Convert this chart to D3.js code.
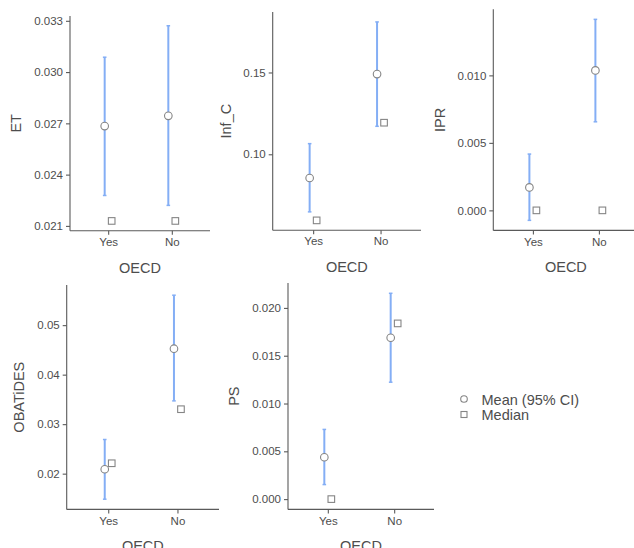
<!DOCTYPE html>
<html><head><meta charset="utf-8">
<script src="https://cdn.jsdelivr.net/npm/d3@7"></script>
<style>body{margin:0;background:#fff}svg{display:block}</style>
</head><body>
<svg id="c" width="634" height="548"></svg>
<script>
// ---- data ----
const groups = ["Yes", "No"];
const variables = ["ET", "Inf_C", "IPR", "OBATiDES", "PS"];
const meanVals  = [[0.02684, 0.02744], [0.0855, 0.1490], [0.00170, 0.01037], [0.02089, 0.04524], [0.00438, 0.01688]];
const ciLower   = [[0.02278, 0.02220], [0.0648, 0.1171], [-0.00074, 0.00656], [0.01484, 0.03470], [0.00152, 0.01223]];
const ciUpper   = [[0.03087, 0.03271], [0.1065, 0.1809], [0.00417, 0.01415], [0.02690, 0.05605], [0.00729, 0.02153]];
const medianVals= [[0.02129, 0.02129], [0.0596, 0.1193], [0.00000, 0.00000], [0.02210, 0.03302], [0.00000, 0.01838]];
const tickVals  = [[0.021,0.024,0.027,0.030,0.033],[0.10,0.15],[0.000,0.005,0.010],[0.02,0.03,0.04,0.05],[0.000,0.005,0.010,0.015,0.020]];
const tickFmt   = [".3f", ".2f", ".3f", ".2f", ".3f"];
const xTitle = "OECD";
const legendLabels = ["Mean (95% CI)", "Median"];

// ---- layout ----
const panels = [
  {x0:70,    x1:210,   y0:16,    y1:230.7, tx:21},
  {x0:272.7, x1:421,   y0:12,    y1:230.3, tx:231},
  {x0:493.3, x1:638.5, y0:9.3,   y1:230.4, tx:445},
  {x0:66.7,  x1:219,   y0:285,   y1:509.4, tx:24},
  {x0:288,   x1:434,   y0:283,   y1:509.4, tx:238.5}
];
const ciColor = "#84aef5", mkStroke = "#858585", txt = "#4d4d4d", axisCol = "#5a5a5a";
const font = "'Liberation Sans', Arial, sans-serif";
const dodge = 3.5;

const svg = d3.select("#c").style("font-family", font);

panels.forEach((p, i) => {
  const lo = d3.min([...ciLower[i], ...medianVals[i], ...meanVals[i]]);
  const hi = d3.max([...ciUpper[i], ...medianVals[i], ...meanVals[i]]);
  const pad = (hi - lo) * 0.05;
  const y = d3.scaleLinear().domain([lo - pad, hi + pad]).range([p.y1, p.y0]);
  const x = d3.scalePoint().domain(groups).range([p.x0, p.x1]).padding(0.6);
  const g = svg.append("g");

  // y axis
  const ya = g.append("g").attr("transform", `translate(${p.x0},0)`)
    .call(d3.axisLeft(y).tickValues(tickVals[i]).tickFormat(d3.format(tickFmt[i])).tickSize(4).tickPadding(3));
  // x axis
  const xa = g.append("g").attr("transform", `translate(0,${p.y1})`)
    .call(d3.axisBottom(x).tickSize(4).tickPadding(3));
  [ya, xa].forEach(a => {
    a.select(".domain").attr("stroke", axisCol).attr("stroke-width", 1.1);
    a.selectAll(".tick line").attr("stroke", axisCol).attr("stroke-width", 1.1);
    a.selectAll("text").attr("fill", txt).style("font-size", "11.5px").style("font-family", font);
  });
  // fix domain path to plain lines (remove outer ticks)
  ya.select(".domain").attr("d", `M0,${p.y0}V${p.y1}`);
  xa.select(".domain").attr("d", `M${p.x0},0H${p.x1}`);

  // titles
  g.append("text").attr("x", (p.x0 + p.x1) / 2).attr("y", p.y1 + 42)
    .attr("text-anchor", "middle").attr("fill", txt).style("font-size", "14.5px").text(xTitle);
  g.append("text").attr("transform", `translate(${p.tx},${(p.y0 + p.y1) / 2}) rotate(-90)`)
    .attr("text-anchor", "middle").attr("fill", txt).style("font-size", "14.5px").text(variables[i]);

  groups.forEach((grp, j) => {
    const cx = x(grp) - dodge;
    // error bar
    g.append("line").attr("x1", cx).attr("x2", cx).attr("y1", y(ciLower[i][j])).attr("y2", y(ciUpper[i][j]))
      .attr("stroke", ciColor).attr("stroke-width", 2);
    [ciLower[i][j], ciUpper[i][j]].forEach(v => {
      g.append("line").attr("x1", cx - 1.8).attr("x2", cx + 1.8).attr("y1", y(v)).attr("y2", y(v))
        .attr("stroke", ciColor).attr("stroke-width", 1.5);
    });
    // mean
    g.append("circle").attr("cx", cx).attr("cy", y(meanVals[i][j])).attr("r", 3.8)
      .attr("fill", "#fff").attr("stroke", mkStroke).attr("stroke-width", 1.1);
    // median
    const mx = x(grp) + dodge;
    g.append("rect").attr("x", mx - 3.3).attr("y", y(medianVals[i][j]) - 3.3).attr("width", 6.6).attr("height", 6.6)
      .attr("fill", "#fff").attr("stroke", mkStroke).attr("stroke-width", 1.1);
  });
});

// legend
const lg = svg.append("g");
lg.append("circle").attr("cx", 464).attr("cy", 399).attr("r", 3.3).attr("fill", "#fff").attr("stroke", mkStroke).attr("stroke-width", 1.1);
lg.append("rect").attr("x", 461).attr("y", 411.5).attr("width", 6).attr("height", 6).attr("fill", "#fff").attr("stroke", mkStroke).attr("stroke-width", 1.1);
legendLabels.forEach((t, k) => {
  lg.append("text").attr("x", 481.5).attr("y", 405 + k * 15).attr("fill", txt).style("font-size", "14.5px").text(t);
});
</script>
</body></html>
